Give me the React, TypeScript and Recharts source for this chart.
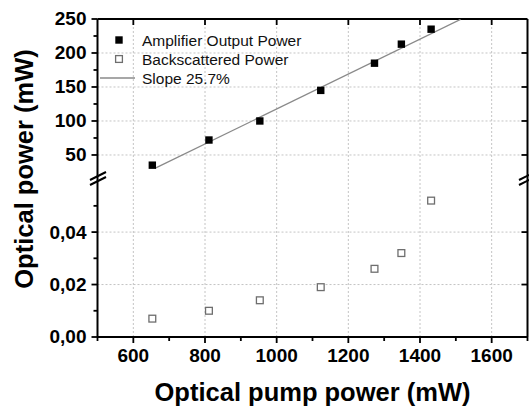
import React from "react";
import {
  ComposedChart,
  Legend,
  ReferenceLine,
  Scatter,
  XAxis,
  YAxis,
} from "recharts";

// pump power (mW) for each measurement
const pumpPower = [653, 811, 953, 1123, 1273, 1348, 1431];
// amplifier output (mW)
const outputPower = [35, 72, 100, 145, 185, 213, 235];
// backscattered power (mW)
const backscattered = [0.007, 0.01, 0.014, 0.019, 0.026, 0.032, 0.052];
// linear fit, slope 25.7%
const fitX = [660, 1513];
const fitY = [30.2, 249.4];

const xTicks = [500, 600, 700, 800, 900, 1000, 1100, 1200, 1300, 1400, 1500, 1600, 1700];
const xMajor = [600, 800, 1000, 1200, 1400, 1600];
const upperTicks = [50, 75, 100, 125, 150, 175, 200, 225, 250];
const upperMajor = [50, 100, 150, 200, 250];
const upperGrid = [50, 100, 150, 200];
const lowerTicks = [0, 0.01, 0.02, 0.03, 0.04, 0.05];
const lowerMajor = [0, 0.02, 0.04];
const lowerGrid = [0.02, 0.04];

const legendItems = [
  { name: "Amplifier Output Power", kind: "filled" },
  { name: "Backscattered Power", kind: "open" },
  { name: "Slope 25.7%", kind: "line" },
];

const upperData = pumpPower.map((x, i) => ({ x, y: outputPower[i] }));
const lowerData = pumpPower.map((x, i) => ({ x, y: backscattered[i] }));
const fitData = fitX.map((x, i) => ({ x, y: fitY[i] }));

const FONT = "'Liberation Sans', Arial, sans-serif";
const tickFont = { fontFamily: FONT, fontWeight: 700, fontSize: 19, fill: "#000" };
const axisLine = { stroke: "#000", strokeWidth: 2 };
const gridProps = { stroke: "#c4c4c4", strokeDasharray: "2 2", strokeWidth: 1 };

type Side = "left" | "right" | "top" | "bottom";

const makeTick =
  (side: Side, majors: number[], labels: boolean, fmt: (v: number) => string = String) =>
  (props: any) => {
    const { x, y, payload } = props;
    const v = payload.value as number;
    const major = majors.some((m) => Math.abs(m - v) < 1e-9);
    const len = major ? 6 : 4;
    const ln = { stroke: "#000", strokeWidth: 1.8 };
    const show = labels && major;
    if (side === "left")
      return (
        <g>
          <line x1={x} x2={x - len} y1={y} y2={y} {...ln} />
          {show && (
            <text x={x - 11} y={y} dy="0.34em" textAnchor="end" style={tickFont}>
              {fmt(v)}
            </text>
          )}
        </g>
      );
    if (side === "right")
      return <line x1={x} x2={x - len} y1={y} y2={y} {...ln} />;
    if (side === "top")
      return <line x1={x} x2={x} y1={y} y2={y + len} {...ln} />;
    return (
      <g>
        <line x1={x} x2={x} y1={y} y2={y + len} {...ln} />
        {show && (
          <text x={x} y={y + 25} textAnchor="middle" style={tickFont}>
            {fmt(v)}
          </text>
        )}
      </g>
    );
  };

const commaFmt = (v: number) => v.toFixed(2).replace(".", ",");

const filledSquare = (p: any) => (
  <rect x={p.cx - 3.7} y={p.cy - 3.7} width={7.4} height={7.4} fill="#000" />
);
const openSquare = (p: any) => (
  <rect
    x={p.cx - 3.4}
    y={p.cy - 3.4}
    width={6.8}
    height={6.8}
    fill="#fff"
    stroke="#6e6e6e"
    strokeWidth={1.3}
  />
);
const noShape = () => <g />;

const renderLegend = () => (
  <svg width={240} height={60} style={{ overflow: "visible" }}>
    {legendItems.map((it, i) => {
      const cy = 10 + i * 19;
      return (
        <g key={it.name}>
          {it.kind === "filled" && (
            <rect x={19.3} y={cy - 3.7} width={7.4} height={7.4} fill="#000" />
          )}
          {it.kind === "open" && (
            <rect
              x={19.6}
              y={cy - 3.4}
              width={6.8}
              height={6.8}
              fill="#fff"
              stroke="#6e6e6e"
              strokeWidth={1.3}
            />
          )}
          {it.kind === "line" && (
            <line x1={4} x2={39} y1={cy} y2={cy} stroke="#8a8a8a" strokeWidth={1.3} />
          )}
          <text
            x={46}
            y={cy}
            dy="0.36em"
            style={{ fontFamily: FONT, fontSize: 15.5, fill: "#111" }}
          >
            {it.name}
          </text>
        </g>
      );
    })}
  </svg>
);

const W = 529;
const H = 409;
const LEFT = 97.5;
const RIGHT = 1.5;
const TOP = 19;
const BREAK = 177;
const BOTTOM = 337;
// axes are 1px wide/high, so the margins give back that pixel
const AX = 1;

export default function App() {
  return (
    <div style={{ position: "absolute", left: 0, top: 0, width: W, height: H, background: "#fff" }}>
      {/* lower panel: backscattered power */}
      <div style={{ position: "absolute", left: 0, top: 0 }}>
        <ComposedChart
          width={W}
          height={H}
          margin={{
            top: BREAK,
            right: RIGHT - AX,
            bottom: H - BOTTOM - AX,
            left: LEFT - AX,
          }}
        >
          <XAxis
            type="number"
            dataKey="x"
            domain={[500, 1700]}
            ticks={xTicks}
            interval={0}
            height={AX}
            tickSize={0}
            tickMargin={0}
            tickLine={false}
            axisLine={axisLine}
            tick={makeTick("bottom", xMajor, true)}
            allowDataOverflow
          />
          <YAxis
            type="number"
            dataKey="y"
            domain={[0, 0.061]}
            ticks={lowerTicks}
            interval={0}
            width={AX}
            tickSize={0}
            tickMargin={0}
            tickLine={false}
            axisLine={axisLine}
            tick={makeTick("left", lowerMajor, true, commaFmt)}
            allowDataOverflow
          />
          <YAxis
            yAxisId="r"
            orientation="right"
            type="number"
            domain={[0, 0.061]}
            ticks={lowerGrid}
            interval={0}
            width={AX}
            tickSize={0}
            tickMargin={0}
            tickLine={false}
            axisLine={axisLine}
            tick={makeTick("right", lowerGrid, false)}
            allowDataOverflow
          />
          {xMajor.map((v) => (
            <ReferenceLine key={"lx" + v} x={v} {...gridProps} />
          ))}
          {lowerGrid.map((v) => (
            <ReferenceLine key={"ly" + v} y={v} {...gridProps} />
          ))}
          <Scatter data={lowerData} shape={openSquare} isAnimationActive={false} />
        </ComposedChart>
      </div>

      {/* upper panel: amplifier output power */}
      <div style={{ position: "absolute", left: 0, top: 0 }}>
        <ComposedChart
          width={W}
          height={H}
          margin={{
            top: TOP - AX,
            right: RIGHT - AX,
            bottom: H - BREAK,
            left: LEFT - AX,
          }}
        >
          <XAxis
            type="number"
            dataKey="x"
            orientation="top"
            domain={[500, 1700]}
            ticks={xMajor}
            interval={0}
            height={AX}
            tickSize={0}
            tickMargin={0}
            tickLine={false}
            axisLine={axisLine}
            tick={makeTick("top", xMajor, false)}
            allowDataOverflow
          />
          <YAxis
            type="number"
            dataKey="y"
            domain={[17.6, 250]}
            ticks={upperTicks}
            interval={0}
            width={AX}
            tickSize={0}
            tickMargin={0}
            tickLine={false}
            axisLine={axisLine}
            tick={makeTick("left", upperMajor, true)}
            allowDataOverflow
          />
          <YAxis
            yAxisId="r"
            orientation="right"
            type="number"
            domain={[17.6, 250]}
            ticks={upperGrid}
            interval={0}
            width={AX}
            tickSize={0}
            tickMargin={0}
            tickLine={false}
            axisLine={axisLine}
            tick={makeTick("right", upperGrid, false)}
            allowDataOverflow
          />
          {xMajor.map((v) => (
            <ReferenceLine key={"ux" + v} x={v} {...gridProps} />
          ))}
          {upperGrid.map((v) => (
            <ReferenceLine key={"uy" + v} y={v} {...gridProps} />
          ))}
          <Scatter
            data={fitData}
            shape={noShape}
            line={{ stroke: "#8a8a8a", strokeWidth: 1.3 }}
            isAnimationActive={false}
          />
          <Scatter data={upperData} shape={filledSquare} isAnimationActive={false} />
          <Legend
            layout="vertical"
            align="center"
            verticalAlign="middle"
            wrapperStyle={{ left: 96, top: 30, width: 240, height: 60 }}
            content={renderLegend}
          />
        </ComposedChart>
      </div>

      {/* axis titles and break marks */}
      <svg
        width={W}
        height={H}
        style={{ position: "absolute", left: 0, top: 0, pointerEvents: "none" }}
      >
        <text
          x={312.5}
          y={401}
          textAnchor="middle"
          style={{ fontFamily: FONT, fontWeight: 700, fontSize: 25.5, fill: "#000" }}
        >
          Optical pump power (mW)
        </text>
        <text
          x={33}
          y={169}
          textAnchor="middle"
          transform="rotate(-90 33 169)"
          style={{ fontFamily: FONT, fontWeight: 700, fontSize: 25.5, fill: "#000" }}
        >
          Optical power (mW)
        </text>
        <g stroke="#000" strokeWidth={2}>
          <line x1={90} y1={180} x2={106} y2={172} />
          <line x1={90} y1={185} x2={106} y2={177} />
          <line x1={519} y1={180} x2={535} y2={172} />
          <line x1={519} y1={185} x2={535} y2={177} />
        </g>
      </svg>
    </div>
  );
}
